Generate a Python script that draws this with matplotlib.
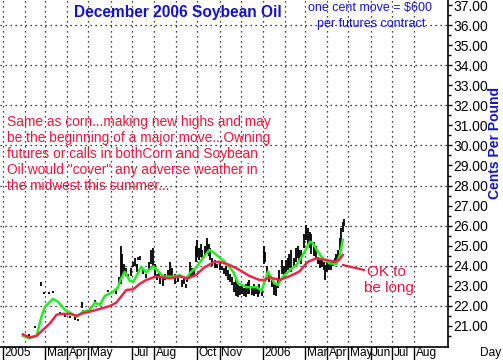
import numpy as np
import pandas as pd
import matplotlib
matplotlib.use("Agg")
import matplotlib.pyplot as plt
from matplotlib.transforms import ScaledTranslation

plt.rcParams['font.family'] = ['Liberation Sans', 'DejaVu Sans']

# -------------------------------
# Data (cents per pound)
# -------------------------------
bar_dates = ["2005-02-07", "2005-02-15", "2005-02-24", "2005-02-28", "2005-03-07", "2005-03-12",
             "2005-03-22", "2005-03-29", "2005-04-05", "2005-04-12", "2005-04-16", "2005-04-22",
             "2005-04-24", "2005-05-03", "2005-05-10", "2005-05-17", "2005-05-24", "2005-05-28",
             "2005-06-03", "2005-06-08",
             "2005-06-13", "2005-06-15", "2005-06-17", "2005-06-20", "2005-06-23", "2005-06-25",
             "2005-06-29", "2005-07-02", "2005-07-05", "2005-07-08", "2005-07-10", "2005-07-13",
             "2005-07-17", "2005-07-21", "2005-07-25", "2005-07-28", "2005-07-30", "2005-08-02",
             "2005-08-05", "2005-08-08", "2005-08-10", "2005-08-13", "2005-08-17", "2005-08-20",
             "2005-08-23", "2005-08-26", "2005-08-30", "2005-09-03", "2005-09-09", "2005-09-12",
             "2005-09-15", "2005-09-17", "2005-09-20", "2005-09-23", "2005-09-26", "2005-09-29",
             "2005-10-01", "2005-10-03", "2005-10-06", "2005-10-08", "2005-10-11", "2005-10-14",
             "2005-10-17", "2005-10-19", "2005-10-22", "2005-10-25", "2005-10-29", "2005-11-01",
             "2005-11-04", "2005-11-07", "2005-11-10", "2005-11-13", "2005-11-15", "2005-11-18",
             "2005-11-21", "2005-11-24", "2005-11-27", "2005-11-30", "2005-12-02", "2005-12-05",
             "2005-12-08", "2005-12-11", "2005-12-13", "2005-12-16", "2005-12-19", "2005-12-22",
             "2005-12-25", "2005-12-27", "2005-12-30", "2006-01-02", "2006-01-04", "2006-01-07",
             "2006-01-10", "2006-01-13", "2006-01-16", "2006-01-19", "2006-01-22", "2006-01-24",
             "2006-01-27", "2006-01-30", "2006-02-02", "2006-02-05", "2006-02-07", "2006-02-10",
             "2006-02-13", "2006-02-16", "2006-02-19", "2006-02-21", "2006-02-24", "2006-02-27",
             "2006-03-02", "2006-03-05", "2006-03-08", "2006-03-10", "2006-03-13", "2006-03-16",
             "2006-03-19", "2006-03-22", "2006-03-25", "2006-03-27", "2006-03-29", "2006-04-01",
             "2006-04-03", "2006-04-06", "2006-04-09", "2006-04-12", "2006-04-14", "2006-04-16",
             "2006-04-19", "2006-04-21", "2006-04-23", "2006-04-25"]
bar_high = [20.60, 21.00, 23.20, 22.70, 22.70, 22.75, 21.70, 21.55, 21.50, 21.45, 21.35, 22.20,
            21.80, 21.90, 22.30, 22.15, 22.55, 22.80, 22.75, 22.80,
            23.45, 25.00, 24.60, 24.10, 23.90, 23.60, 23.90, 24.20, 24.40, 24.10, 24.45, 24.50,
            23.90, 23.60, 24.20, 24.80, 24.90, 24.10, 23.60, 23.70, 23.45, 23.40, 23.60, 23.80,
            24.20, 23.90, 23.60, 23.50, 23.30, 23.40, 23.10, 23.50, 24.20, 23.90, 23.80, 25.00,
            25.30, 24.90, 25.10, 24.80, 25.00, 25.40, 25.10, 24.90, 24.40, 24.30, 24.10, 24.20,
            24.00, 23.90, 24.00, 23.80, 23.60, 23.45, 23.20, 23.40, 23.10, 23.00, 23.04, 22.90,
            23.10, 23.20, 23.30, 22.90, 23.10, 23.00, 22.95, 23.10, 22.90, 25.00, 24.70, 24.00,
            23.60, 23.30, 23.10, 23.10, 23.40, 23.80, 24.30, 24.00, 24.30, 24.40, 24.60, 24.80,
            24.40, 24.90, 25.00, 24.80, 24.80, 25.60, 26.03, 25.90, 25.70, 25.60, 25.20, 25.00,
            24.45, 24.40, 24.30, 24.20, 24.04, 24.20, 24.10, 24.20, 24.30, 24.37, 24.60, 24.80,
            25.40, 25.90, 26.20, 26.35]
bar_low = [20.50, 20.90, 23.00, 22.60, 22.60, 22.65, 21.60, 21.45, 21.40, 21.30, 21.25, 21.90,
           21.70, 21.80, 22.20, 22.05, 22.45, 22.70, 22.65, 22.60,
           23.04, 23.10, 23.50, 23.60, 23.50, 23.40, 23.50, 23.95, 24.00, 23.70, 24.30, 24.30,
           23.60, 23.40, 23.80, 24.10, 23.95, 23.40, 23.30, 23.40, 23.10, 23.00, 23.30, 23.45,
           23.45, 23.50, 23.10, 23.20, 22.95, 23.10, 22.90, 23.20, 23.45, 23.50, 23.45, 24.20,
           24.45, 24.30, 24.45, 24.37, 24.50, 24.60, 24.50, 24.30, 24.00, 23.90, 23.90, 23.80,
           23.80, 23.60, 23.50, 23.30, 23.20, 23.04, 22.70, 22.50, 22.45, 22.55, 22.60, 22.50,
           22.45, 22.60, 22.60, 22.55, 22.50, 22.60, 22.45, 22.60, 22.50, 24.10, 24.20, 23.50,
           23.20, 22.95, 22.55, 22.50, 22.90, 23.30, 23.60, 23.40, 23.60, 23.80, 23.90, 23.70,
           23.90, 24.20, 24.37, 24.30, 24.10, 24.90, 25.30, 24.95, 24.90, 24.60, 24.50, 24.40,
           24.10, 23.90, 23.95, 23.80, 23.30, 23.70, 23.80, 23.80, 24.00, 24.04, 24.20, 24.30,
           24.80, 25.20, 25.70, 26.00]

fast_dates = ["2005-01-29", "2005-02-07", "2005-02-17", "2005-02-24", "2005-03-01", "2005-03-12",
              "2005-03-19", "2005-03-29", "2005-04-07", "2005-04-15", "2005-04-23", "2005-05-03",
              "2005-05-10", "2005-05-17", "2005-05-24", "2005-06-03", "2005-06-11", "2005-06-15",
              "2005-06-21", "2005-06-28", "2005-07-03", "2005-07-10", "2005-07-14", "2005-07-21",
              "2005-07-31", "2005-08-07", "2005-08-14", "2005-08-28", "2005-09-06", "2005-09-15",
              "2005-09-20", "2005-09-30", "2005-10-09", "2005-10-18", "2005-10-25", "2005-11-08",
              "2005-11-20", "2005-11-27", "2005-12-09", "2005-12-23", "2005-12-30", "2006-01-08",
              "2006-01-17", "2006-01-22", "2006-01-29", "2006-02-08", "2006-02-17", "2006-02-26",
              "2006-03-08", "2006-03-12", "2006-03-19", "2006-03-26", "2006-04-05", "2006-04-14",
              "2006-04-19", "2006-04-23"]
fast_ma = [20.50, 20.38, 20.50, 21.46, 21.96, 22.35, 22.21, 21.80, 21.63, 21.45, 21.71, 21.80,
           22.16, 22.05, 22.50, 22.67, 22.90, 23.30, 23.70, 23.25, 23.20, 23.67, 23.95, 23.67,
           23.97, 23.71, 23.47, 23.45, 23.54, 23.35, 23.62, 23.95, 24.40, 24.79, 24.62, 24.20,
           23.71, 23.13, 22.93, 22.93, 22.76, 23.71, 23.13, 23.04, 23.46, 23.79, 24.04, 24.54,
           25.20, 25.12, 24.70, 24.37, 24.12, 24.08, 24.54, 25.29]

slow_dates = ["2005-01-29", "2005-02-07", "2005-02-17", "2005-02-26", "2005-03-08", "2005-03-17",
              "2005-03-22", "2005-04-05", "2005-04-14", "2005-04-23", "2005-05-03", "2005-05-17",
              "2005-05-31", "2005-06-09", "2005-06-14", "2005-06-23", "2005-07-03", "2005-07-12",
              "2005-07-21", "2005-08-04", "2005-08-23", "2005-09-06", "2005-09-17", "2005-09-29",
              "2005-10-10", "2005-10-24", "2005-11-01", "2005-11-15", "2005-11-29", "2005-12-13",
              "2005-12-27", "2006-01-03", "2006-01-10", "2006-01-24", "2006-02-07", "2006-02-21",
              "2006-03-05", "2006-03-17", "2006-03-31", "2006-04-12", "2006-04-18", "2006-04-23"]
slow_ma = [20.58, 20.43, 20.50, 20.80, 21.13, 21.55, 21.60, 21.60, 21.51, 21.63, 21.71, 21.85,
           21.99, 22.16, 22.38, 22.79, 22.83, 23.10, 23.29, 23.47, 23.37, 23.47, 23.37, 23.54,
           23.90, 24.18, 24.20, 24.04, 23.79, 23.49, 23.29, 23.29, 23.42, 23.29, 23.47, 23.71,
           24.20, 24.37, 24.29, 24.20, 24.29, 24.54]

month_labels = ["2005", "Mar", "Apr", "May", "Jul", "Aug", "Oct", "Nov",
                "2006", "Mar", "Apr", "May", "Jun", "Jul", "Aug"]
month_ticks = ["2005-01-01", "2005-03-01", "2005-04-01", "2005-05-01", "2005-07-01", "2005-08-01",
               "2005-10-01", "2005-11-01", "2006-01-01", "2006-03-01", "2006-04-01", "2006-05-01",
               "2006-06-01", "2006-07-01", "2006-08-01"]

note_lines = ["Same as corn...making new highs and may",
              "be the beginning of a major move...Owning",
              "futures or calls in bothCorn and Soybean",
              "Oil would \"cover\" any adverse weather in",
              "the midwest this summer..."]

BLUE = "#1414c8"
RED = "#f0143c"
W, H = 503, 360

# -------------------------------
# Figure
# -------------------------------
fig = plt.figure(figsize=(W / 100, H / 100), dpi=100)
ax = fig.add_axes([0, 13 / H, 448 / W, 347 / H])

# dotted grid
for v in range(22, 37, 2):
    ax.axhline(v, color="black", lw=0.9, ls=(0, (1, 3)), zorder=0)
for d in pd.date_range("2005-01-01", "2006-08-01", freq="MS"):
    ax.axvline(d, color="black", lw=0.9, ls=(0, (1, 3)), zorder=0)

# price bars + moving averages
ax.vlines(pd.to_datetime(bar_dates), bar_low, bar_high, color="black", lw=1.3, zorder=2)
ax.plot(pd.to_datetime(fast_dates), fast_ma, color="#22ee22", lw=1.8, zorder=3)
ax.plot(pd.to_datetime(slow_dates), slow_ma, color="#e8284a", lw=1.8, zorder=3)

ax.set_xlim(pd.Timestamp("2004-12-27 19:00"), pd.Timestamp("2006-09-17 17:00"))
ax.set_ylim(19.95, 37.25)

# spines
for s in ["top", "left"]:
    ax.spines[s].set_visible(False)
ax.spines["right"].set_linewidth(1.2)
ax.spines["bottom"].set_linewidth(1.2)

# right y axis
ax.yaxis.tick_right()
ax.set_yticks(np.arange(21, 38, 1))
ax.set_yticks(np.arange(20.5, 37.5, 0.5), minor=True)
ax.set_yticklabels([f"{v:.2f}" for v in np.arange(21, 38, 1)])
ax.tick_params(axis="y", which="major", direction="out", length=3, width=1, pad=1, labelsize=10)
ax.tick_params(axis="y", which="minor", direction="out", length=2, width=1)

# x axis: separator ticks with labels to the right
ax.set_xticks(pd.to_datetime(month_ticks))
ax.set_xticklabels(month_labels)
ax.tick_params(axis="x", which="major", direction="out", length=9.5, width=1, pad=-9.3, labelsize=8.6)
ax.tick_params(axis="x", which="minor", length=0)
for lab in ax.get_xticklabels():
    lab.set_horizontalalignment("left")
    lab.set_transform(lab.get_transform() + ScaledTranslation(1.5 / 100, 0, fig.dpi_scale_trans))

# -------------------------------
# Text
# -------------------------------
def px(x, y):
    return x / W, 1 - y / H

fig.text(*px(178, 13), "December 2006 Soybean Oil", color=BLUE, fontsize=11.2, fontweight="bold",
         ha="center", va="center")
fig.text(*px(370, 8), "one cent move = $600", color=BLUE, fontsize=9, ha="center", va="center")
fig.text(*px(371, 24), "per futures contract", color=BLUE, fontsize=9, ha="center", va="center")
fig.text(*px(495, 143), "Cents Per Pound", color=BLUE, fontsize=10, fontweight="bold",
         rotation=90, ha="center", va="center")
fig.text(*px(501, 353), "Day", fontsize=8.6, ha="right", va="center")

for i, line in enumerate(note_lines):
    fig.text(*px(7, 122 + 16 * i), line, color=RED, fontsize=9.9, ha="left", va="center")

fig.text(*px(386, 272), "OK to", color=RED, fontsize=11, ha="center", va="center")
fig.text(*px(389, 288), "be long", color=RED, fontsize=11, ha="center", va="center")
fig.add_artist(plt.Line2D([343 / W, 364 / W], [1 - 265 / H, 1 - 270 / H], color=RED, lw=1.5))

fig.savefig("out.png", dpi=100)
